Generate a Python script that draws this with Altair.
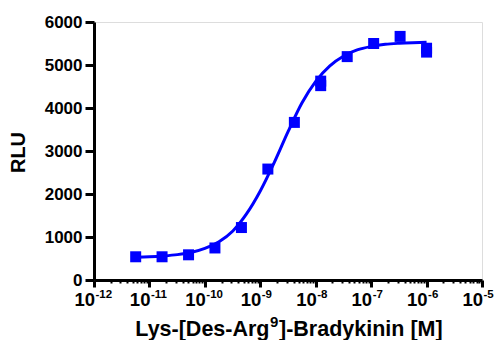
import altair as alt
import pandas as pd

# Measured points (concentration in M, RLU)
pt_conc = [5.65e-12, 1.69e-11, 5.08e-11, 1.52e-10, 4.57e-10, 1.37e-9, 4.12e-9,
           1.23e-8, 1.23e-8, 3.70e-8, 1.11e-7, 3.33e-7, 1.0e-6, 1.0e-6]
pt_rlu = [540, 540, 586, 745, 1220, 2580, 3665,
          4625, 4520, 5195, 5500, 5665, 5390, 5300]

# Fitted curve
curve_conc = [5.6e-12, 1.0e-11, 1.8e-11, 3.2e-11, 5.6e-11, 1.0e-10, 1.8e-10, 3.2e-10,
              5.6e-10, 1.0e-9, 1.8e-9, 3.2e-9, 5.6e-9, 1.0e-8, 1.8e-8, 3.2e-8,
              5.6e-8, 1.0e-7, 1.8e-7, 3.2e-7, 5.6e-7, 1.0e-6]
curve_rlu = [530, 540, 560, 590, 640, 735, 890, 1140, 1530, 2070, 2740, 3460,
             4110, 4620, 4980, 5210, 5350, 5430, 5480, 5505, 5520, 5530]

# Axis ticks
decade_vals = [1e-12, 1e-11, 1e-10, 1e-9, 1e-8, 1e-7, 1e-6, 1e-5]
decade_base = ["10"] * 8
decade_exp = ["-12", "-11", "-10", "-9", "-8", "-7", "-6", "-5"]
y_ticks = [0, 1000, 2000, 3000, 4000, 5000, 6000]

x_title_left = "Lys-[Des-Arg"
x_title_sup = "9"
x_title_right = "]-Bradykinin [M]"
y_title = "RLU"

FONT = "Liberation Sans"
BLUE = "#0000FF"

minor_vals = [m * d for d in decade_vals[:-1] for m in range(1, 10)] + [1e-5]

pts = pd.DataFrame({"conc": pt_conc, "rlu": pt_rlu})
curve = pd.DataFrame({"conc": curve_conc, "rlu": curve_rlu})
labels = pd.DataFrame({"conc": decade_vals, "base": decade_base, "exp": decade_exp})

xscale = alt.Scale(type="log", domain=[1e-12, 1e-5], nice=False)
yscale = alt.Scale(domain=[0, 6000], nice=False)

major_test = "abs(log(datum.value)/LN10 - round(log(datum.value)/LN10)) < 0.001"

xaxis = alt.Axis(
    values=minor_vals, labels=False, title=None, grid=False,
    domainColor="black", domainWidth=3,
    tickColor="black",
    tickSize={"condition": {"test": major_test, "value": 7}, "value": 3},
    tickWidth={"condition": {"test": major_test, "value": 3}, "value": 2},
)
yaxis = alt.Axis(
    values=y_ticks, format="d", grid=False,
    domainColor="black", domainWidth=3, tickColor="black", tickWidth=3, tickSize=9,
    labelFont=FONT, labelFontSize=17, labelFontWeight="bold", labelColor="black",
    labelPadding=3,
    title=y_title, titleFont=FONT, titleFontSize=20, titleFontWeight="bold",
    titleColor="black", titleX=-66, titleY=130, titleAlign="center", titleAngle=-90,
)

line = alt.Chart(curve).mark_line(color=BLUE, strokeWidth=3, interpolate="monotone").encode(
    x=alt.X("conc:Q", scale=xscale, axis=xaxis),
    y=alt.Y("rlu:Q", scale=yscale, axis=yaxis),
)
points = alt.Chart(pts).mark_square(color=BLUE, size=121, opacity=1).encode(
    x=alt.X("conc:Q", scale=xscale),
    y=alt.Y("rlu:Q", scale=yscale),
)
base_txt = alt.Chart(labels).mark_text(
    align="right", baseline="alphabetic", font=FONT, fontSize=18.5, fontWeight="bold",
    color="black", dx=1,
).encode(x=alt.X("conc:Q", scale=xscale), y=alt.value(284), text="base:N")
exp_txt = alt.Chart(labels).mark_text(
    align="left", baseline="alphabetic", font=FONT, fontSize=11.5, fontWeight="bold",
    color="black", dx=1.5,
).encode(x=alt.X("conc:Q", scale=xscale), y=alt.value(276), text="exp:N")

title_df = pd.DataFrame({"a": [x_title_left], "b": [x_title_sup], "c": [x_title_right]})
t_left = alt.Chart(title_df).mark_text(
    align="right", baseline="alphabetic", font=FONT, fontSize=21.5, fontWeight="bold", color="black"
).encode(x=alt.value(175.5), y=alt.value(314), text="a:N")
t_sup = alt.Chart(title_df).mark_text(
    align="left", baseline="alphabetic", font=FONT, fontSize=15, fontWeight="bold", color="black"
).encode(x=alt.value(176), y=alt.value(305), text="b:N")
t_right = alt.Chart(title_df).mark_text(
    align="left", baseline="alphabetic", font=FONT, fontSize=21.5, fontWeight="bold", color="black"
).encode(x=alt.value(185), y=alt.value(314), text="c:N")

chart = alt.layer(line, points, base_txt, exp_txt, t_left, t_sup, t_right).properties(
    width=388, height=258,
    padding={"left": 86, "top": 14, "right": 12, "bottom": 60},
    autosize="none",
).configure_view(stroke=None).configure(background="white")

chart.save("out.html", embed_options={"renderer": "svg", "actions": False})
